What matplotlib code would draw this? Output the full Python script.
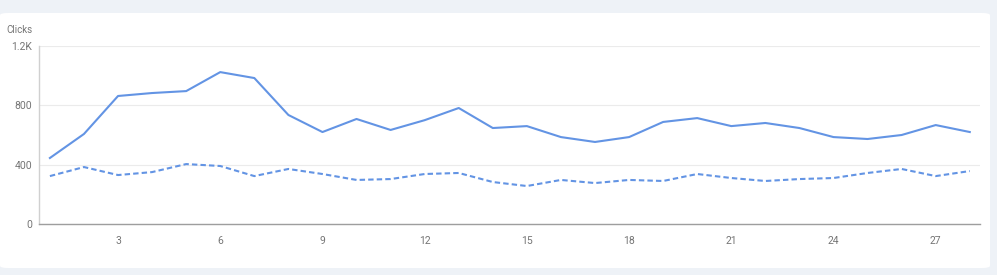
import matplotlib.pyplot as plt
from matplotlib.patches import FancyBboxPatch

plt.rcParams['font.family'] = ['Roboto', 'DejaVu Sans']

days = list(range(1, 29))
clicks = [445, 607, 863, 883, 896, 1024, 984, 735, 620, 708, 634, 700, 782, 647,
          660, 586, 553, 586, 688, 714, 660, 681, 647, 586, 573, 600, 667, 620]
clicks_prev = [323, 384, 330, 350, 404, 391, 323, 371, 337, 297, 303, 337, 344, 283,
               256, 297, 276, 297, 290, 337, 310, 290, 303, 310, 344, 371, 323, 357]
yticks = [0, 400, 800, 1200]
ylabels = ['0', '400', '800', '1.2K']
xticks = [3, 6, 9, 12, 15, 18, 21, 24, 27]

fig = plt.figure(figsize=(9.97, 2.75), dpi=100)
fig.patch.set_facecolor('#eef2f7')

# white card behind the axes
card = FancyBboxPatch((0.0, 7 / 275), 990 / 997, 262 / 275 - 7 / 275,
                      boxstyle='round,pad=0,rounding_size=0.008',
                      transform=fig.transFigure, facecolor='white', edgecolor='none',
                      zorder=-10)
fig.patches.append(card)

ax = fig.add_axes([39 / 997, 1 - 224 / 275, (980 - 39) / 997, (224 - 46) / 275])
ax.set_zorder(5)
ax.set_facecolor('none')
ax.plot(days, clicks, color='#6394e4', lw=1.5)
ax.plot(days, clicks_prev, color='#6394e4', lw=1.5, ls=(0, (2.6, 1.5)))

ax.set_xlim(0.68, 28.3)
ax.set_ylim(0, 1200)
ax.set_yticks(yticks)
ax.set_yticklabels(ylabels)
ax.set_xticks(xticks)
ax.tick_params(length=0, labelsize=7.5, labelcolor='#757575')
ax.tick_params(axis='x', pad=9)
ax.tick_params(axis='y', pad=5)
ax.grid(axis='y', color='#ebebeb', lw=0.8)
for s in ['top', 'right']:
    ax.spines[s].set_visible(False)
ax.spines['left'].set_color('#d0d0d0')
ax.spines['bottom'].set_color('#9e9e9e')
ax.spines['left'].set_linewidth(1)
ax.spines['bottom'].set_linewidth(1)
ax.set_axisbelow(True)

fig.text(6 / 997, 1 - 30 / 275, 'Clicks', fontsize=7, color='#757575', va='center')

fig.savefig('out.png', dpi=100, facecolor=fig.get_facecolor())
